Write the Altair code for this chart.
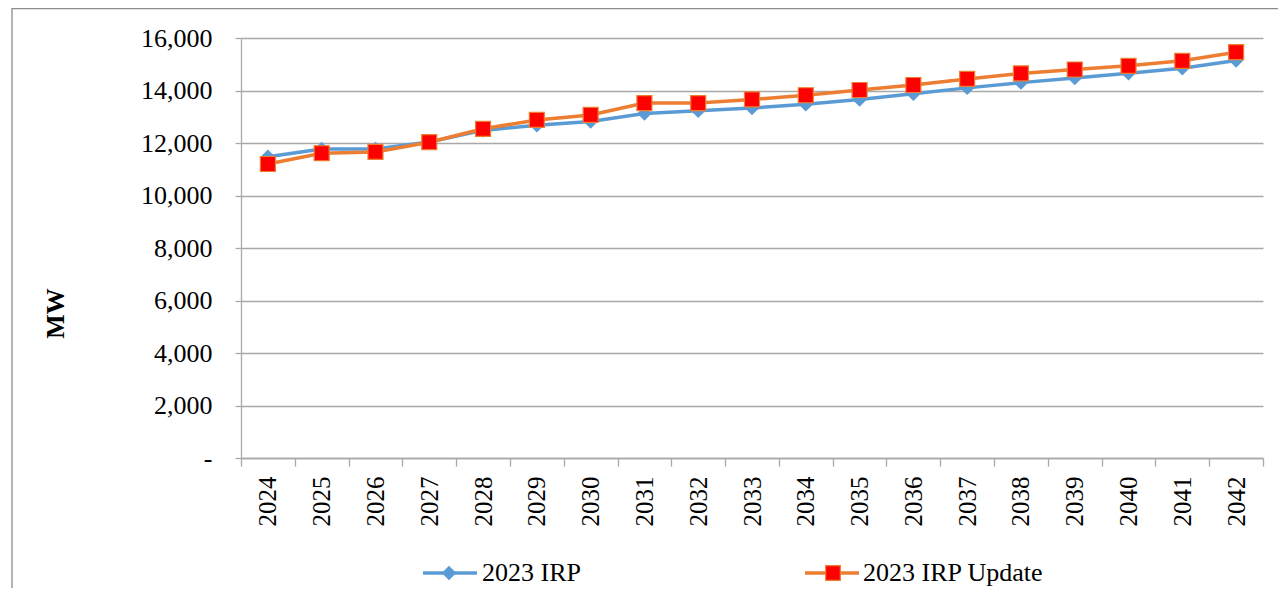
import altair as alt
import pandas as pd

# ---- data ----
years = [str(y) for y in range(2024, 2043)]
irp_2023 = [11480, 11770, 11770, 12040, 12480, 12680, 12820, 13120, 13230, 13330,
            13480, 13660, 13880, 14100, 14300, 14480, 14660, 14850, 15140]
irp_update = [11200, 11610, 11660, 12030, 12540, 12880, 13070, 13520, 13520, 13660,
              13820, 14020, 14210, 14440, 14650, 14800, 14940, 15130, 15460]
series_names = ["2023 IRP", "2023 IRP Update"]
y_ticks = [0, 2000, 4000, 6000, 8000, 10000, 12000, 14000, 16000]
y_title = "MW"

# ---- styles ----
FONT = "Liberation Serif"
BLUE = "#5b9bd5"
ORANGE = "#ed7d31"
RED = "#ff0000"
GRID = "#a9a9a9"
FRAME = "#8c8c8c"

W, H = 1022, 420

df1 = pd.DataFrame({"year": years, "value": irp_2023})
df2 = pd.DataFrame({"year": years, "value": irp_update})
one = pd.DataFrame({"k": [0]})

x_enc = alt.X(
    "year:O",
    bandPosition=0.5,
    scale=alt.Scale(type="band", domain=years, paddingInner=0, paddingOuter=0),
    axis=alt.Axis(
        title=None, grid=False, tickBand="extent", labelAngle=270,
        labelFont=FONT, labelFontSize=25, labelColor="black", labelPadding=10,
        tickSize=8, tickColor=GRID, domainColor=GRID, domainWidth=1.3, tickWidth=1.3,
    ),
)
y_enc = alt.Y(
    "value:Q",
    scale=alt.Scale(domain=[0, 16000], nice=False, zero=True),
    axis=alt.Axis(
        values=y_ticks, grid=True, gridColor=GRID, gridWidth=1.3,
        labelExpr="datum.value == 0 ? '-' : format(datum.value, ',')",
        labelFont=FONT, labelFontSize=26, labelColor="black", labelPadding=23,
        tickSize=6, tickColor=GRID, tickWidth=1.3, domainColor=GRID, domainWidth=1.3,
        title=y_title, titleFont=FONT, titleFontSize=26, titleFontWeight="bold",
        titleColor="black", titleAngle=270, titleX=-186, titleY=275,
        titleAlign="center", titleBaseline="middle",
    ),
)

line1 = alt.Chart(df1).mark_line(color=BLUE, strokeWidth=3.5).encode(x=x_enc, y=y_enc)
pts1 = alt.Chart(df1).mark_point(shape="diamond", filled=True, size=210, color=BLUE,
                                 opacity=1).encode(x=x_enc, y=y_enc)
line2 = alt.Chart(df2).mark_line(color=ORANGE, strokeWidth=3.5).encode(x=x_enc, y=y_enc)
pts2 = alt.Chart(df2).mark_point(shape="square", filled=True, size=225, fill=RED,
                                 stroke=ORANGE, strokeWidth=1.2, opacity=1).encode(x=x_enc, y=y_enc)

# outer frame (decoration)
frame = alt.Chart(one).mark_rect(fillOpacity=0, stroke=FRAME, strokeWidth=1.3).encode(
    x=alt.value(-229), x2=alt.value(1100), y=alt.value(-29.5), y2=alt.value(600)
)

# manual legend
LY = 535
leg_layers = []
# series 1
leg_layers.append(alt.Chart(one).mark_rule(color=BLUE, strokeWidth=3.5).encode(
    x=alt.value(182), x2=alt.value(236), y=alt.value(LY)))
leg_layers.append(alt.Chart(one).mark_point(shape="diamond", filled=True, size=210,
                                            color=BLUE, opacity=1).encode(
    x=alt.value(208), y=alt.value(LY)))
leg_layers.append(alt.Chart(one).mark_text(font=FONT, fontSize=26, color="black",
                                           align="left", baseline="middle").encode(
    x=alt.value(241), y=alt.value(LY), text=alt.value(series_names[0])))
# series 2
leg_layers.append(alt.Chart(one).mark_rule(color=ORANGE, strokeWidth=3.5).encode(
    x=alt.value(564), x2=alt.value(618), y=alt.value(LY)))
leg_layers.append(alt.Chart(one).mark_point(shape="square", filled=True, size=215,
                                            fill=RED, stroke=ORANGE, strokeWidth=1.2,
                                            opacity=1).encode(
    x=alt.value(592), y=alt.value(LY)))
leg_layers.append(alt.Chart(one).mark_text(font=FONT, fontSize=26, color="black",
                                           align="left", baseline="middle").encode(
    x=alt.value(622), y=alt.value(LY), text=alt.value(series_names[1])))

chart = alt.layer(line1, pts1, line2, pts2, frame, *leg_layers).properties(
    width=W, height=H,
    autosize=alt.AutoSizeParams(type="none"),
    padding={"left": 233, "top": 30, "right": 15, "bottom": 130},
    background="white",
).configure_view(stroke=None)

chart.save("out.html", embed_options={"renderer": "svg", "actions": False})
